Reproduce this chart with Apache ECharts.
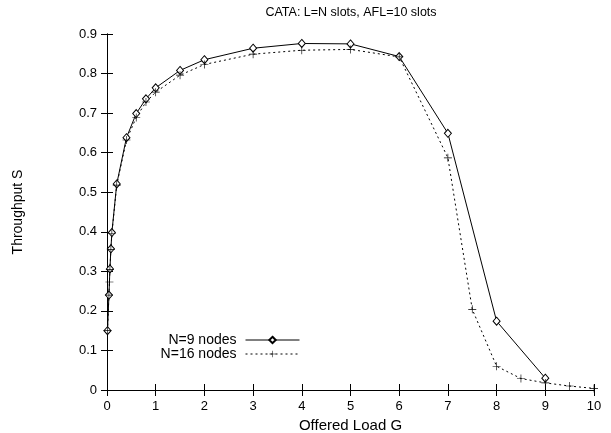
<!DOCTYPE html>
<html><head><meta charset="utf-8">
<script src="https://cdn.jsdelivr.net/npm/echarts@6/dist/echarts.min.js"></script>
<style>html,body{margin:0;padding:0;background:#fff}#c{width:611px;height:433px}</style>
</head><body><div id="c"></div>
<script>
const titleText = 'CATA: L=N slots, AFL=10 slots';
const xAxisName = 'Offered Load G';
const yAxisName = 'Throughput S';
const seriesNames = ['N=9 nodes', 'N=16 nodes'];
const n9X = [0.01,0.04,0.06,0.08,0.1,0.2,0.4,0.6,0.8,1,1.5,2,3,4,5,6,7,8,9];
const n9Y = [0.150,0.240,0.306,0.357,0.398,0.521,0.638,0.699,0.736,0.764,0.808,0.835,0.864,0.876,0.875,0.843,0.649,0.174,0.030];
const n16X = [0.01,0.04,0.05,0.06,0.08,0.1,0.2,0.4,0.6,0.8,1,1.5,2,3,4,5,6,7,7.5,8,8.5,9,9.5,10];
const n16Y = [0.150,0.240,0.273,0.305,0.355,0.395,0.518,0.632,0.689,0.728,0.753,0.796,0.823,0.849,0.859,0.861,0.842,0.587,0.204,0.060,0.029,0.018,0.010,0.004];
const xMin = 0, xMax = 10, xStep = 1;
const yMin = 0, yMax = 0.9, yStep = 0.1;

const font = 'Liberation Sans, Arial, Helvetica, sans-serif';
const plus = 'path://M0,4.6H10V5.4H0Z M4.6,0H5.4V10H4.6Z';
const chart = echarts.init(document.getElementById('c'), null, {renderer:'canvas'});
const pairs = (xs, ys) => xs.map((x, i) => [x, ys[i]]);
const baseAxisLine = {show:true, lineStyle:{color:'#000', width:1}};
const tick = {show:true, inside:true, length:6, lineStyle:{color:'#000', width:1}};
chart.setOption({
  animation:false,
  backgroundColor:'#fff',
  graphic:[{type:'text', x:351, y:6,
    style:{text:titleText, x:0, y:0, textAlign:'center', textVerticalAlign:'top',
      font:'12.5px ' + font, fill:'#000'}}],
  grid:{left:107, right:17, top:34, bottom:43, containLabel:false, outerBoundsMode:'none'},
  legend:{orient:'vertical', right:306, top:328, align:'right', itemWidth:54, itemHeight:8, itemGap:0,
    lineStyle:{width:1},
    textStyle:{fontFamily:font, fontSize:14, color:'#000', padding:[0,4,0,0]},
    data:seriesNames},
  xAxis:[
    {type:'value', min:xMin, max:xMax, interval:xStep, position:'bottom',
     name:xAxisName, nameLocation:'middle', nameGap:26,
     nameTextStyle:{fontFamily:font, fontSize:15, color:'#000'},
     axisLine:baseAxisLine, axisTick:tick, splitLine:{show:false},
     axisLabel:{fontFamily:font, fontSize:13, color:'#000', margin:10}},
    {type:'value', min:xMin, max:xMax, interval:xStep, position:'top',
     axisLine:baseAxisLine, axisTick:tick, splitLine:{show:false}, axisLabel:{show:false}}
  ],
  yAxis:[
    {type:'value', min:yMin, max:yMax, interval:yStep, position:'left',
     name:yAxisName, nameLocation:'middle', nameGap:82, nameRotate:90,
     nameTextStyle:{fontFamily:font, fontSize:14, color:'#000'},
     axisLine:baseAxisLine, axisTick:tick, splitLine:{show:false},
     axisLabel:{fontFamily:font, fontSize:13, color:'#000', margin:10,
       formatter:v => (Math.round(v*10)/10).toString()}},
    {type:'value', min:yMin, max:yMax, interval:yStep, position:'right',
     axisLine:baseAxisLine, axisTick:tick, splitLine:{show:false}, axisLabel:{show:false}}
  ],
  series:[
    {name:seriesNames[0], type:'line', data:pairs(n9X, n9Y),
     symbol:'diamond', symbolSize:[7,8], showAllSymbol:true,
     lineStyle:{color:'#000', width:1},
     itemStyle:{color:'#fff', borderColor:'#000', borderWidth:1}},
    {name:seriesNames[1], type:'line', data:pairs(n16X, n16Y),
     symbol:plus, symbolSize:8, showAllSymbol:true,
     lineStyle:{color:'#000', width:1, type:[2,3]},
     itemStyle:{color:'#000'}}
  ]
});
</script></body></html>
